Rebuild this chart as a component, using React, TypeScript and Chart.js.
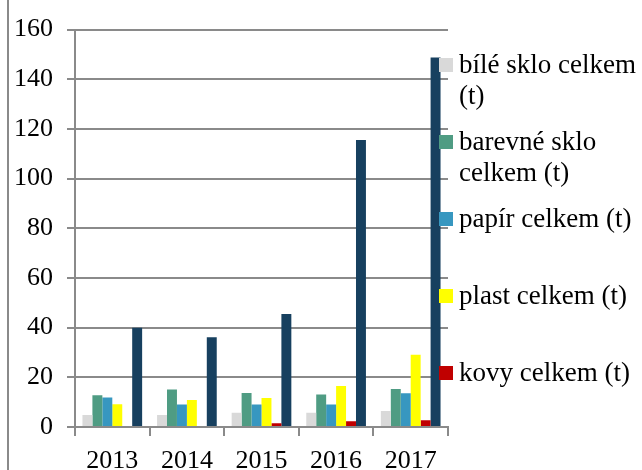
import React, { useEffect, useRef } from "react";
import { Chart, registerables } from "chart.js";

Chart.register(...registerables);

const categories = ["2013", "2014", "2015", "2016", "2017"];
const seriesNames = [
  "bílé sklo celkem (t)",
  "barevné sklo celkem (t)",
  "papír celkem (t)",
  "plast celkem (t)",
  "kovy celkem (t)",
  "celkem (t)",
];
const bileSklo = [4.8, 4.8, 5.7, 5.7, 6.4];
const barevneSklo = [12.8, 15.1, 13.7, 13.1, 15.3];
const papir = [11.9, 9.1, 9.1, 9.1, 13.6];
const plast = [9.2, 10.9, 11.7, 16.5, 29.1];
const kovy = [0, 0, 1.5, 2.3, 2.7];
const celkem = [40, 36.1, 45.5, 115.6, 148.8];
const seriesValues = [bileSklo, barevneSklo, papir, plast, kovy, celkem];
const seriesColors = ["#d9d9d9", "#4f9c83", "#3797c0", "#ffff00", "#c00000", "#17405f"];
const yTicks = [0, 20, 40, 60, 80, 100, 120, 140, 160];

const FONT = "'Liberation Serif', 'Times New Roman', serif";
const GRID = "#8a8a8a";

const legendPlugin = {
  id: "sideLegend",
  afterDraw(chart: any) {
    const ctx = chart.ctx as CanvasRenderingContext2D;
    ctx.save();
    ctx.font = `27px ${FONT}`;
    ctx.textBaseline = "alphabetic";
    ctx.textAlign = "left";
    const textX = 459;
    const maxW = chart.width - textX - 2;
    const slot = 77;
    const first = 64.5;
    chart.data.datasets.forEach((ds: any, i: number) => {
      const cy = first + i * slot;
      if (cy + 20 > chart.height - 40) return;
      ctx.fillStyle = ds.backgroundColor;
      ctx.fillRect(439, Math.round(cy - 7), 14, 14);
      const words = String(ds.label).split(" ");
      const lines: string[] = [];
      let cur = "";
      words.forEach((w) => {
        const test = cur ? cur + " " + w : w;
        if (ctx.measureText(test).width > maxW && cur) {
          lines.push(cur);
          cur = w;
        } else cur = test;
      });
      if (cur) lines.push(cur);
      ctx.fillStyle = "#000";
      lines.forEach((ln, k) => ctx.fillText(ln, textX, cy + 8.5 + k * 31));
    });
    ctx.restore();
  },
};

export default function App() {
  const ref = useRef<HTMLCanvasElement>(null);
  useEffect(() => {
    const chart = new Chart(ref.current!, {
      type: "bar",
      data: {
        labels: categories,
        datasets: seriesValues.map((vals, i) => ({
          label: seriesNames[i],
          data: vals,
          backgroundColor: seriesColors[i],
          borderWidth: 0,
          categoryPercentage: 0.8,
          barPercentage: 1,
        })),
      },
      options: {
        responsive: false,
        animation: false,
        layout: { padding: { top: 27, right: 194, left: 0, bottom: 0 } },
        plugins: { legend: { display: false }, tooltip: { enabled: false } },
        scales: {
          x: {
            grid: {
              offset: true,
              drawOnChartArea: false,
              drawTicks: true,
              tickLength: 9,
              color: GRID,
              lineWidth: 2,
            },
            border: { display: true, color: GRID, width: 2 },
            ticks: { color: "#000", font: { family: FONT, size: 26 }, padding: 10 },
            afterFit: (s: any) => {
              s.height = 43;
            },
          },
          y: {
            min: 0,
            max: 160,
            afterBuildTicks: (s: any) => {
              s.ticks = yTicks.map((v) => ({ value: v }));
            },
            grid: { color: GRID, lineWidth: 2, tickLength: 8, drawTicks: true },
            border: { display: true, color: GRID, width: 2 },
            ticks: { color: "#000", font: { family: FONT, size: 26 }, padding: 14 },
            afterFit: (s: any) => {
              s.width = 75;
            },
          },
        },
      },
      plugins: [legendPlugin],
    });
    return () => chart.destroy();
  }, []);
  return (
    <div style={{ position: "fixed", left: 0, top: 0, width: 642, height: 470, background: "#fff" }}>
      <div
        style={{
          position: "absolute",
          left: 7,
          top: 0,
          width: 0,
          height: 470,
          borderLeft: "2px solid #8a8a8a",
        }}
      />
      <canvas ref={ref} width={642} height={470} style={{ position: "absolute", left: 0, top: 0 }} />
    </div>
  );
}
